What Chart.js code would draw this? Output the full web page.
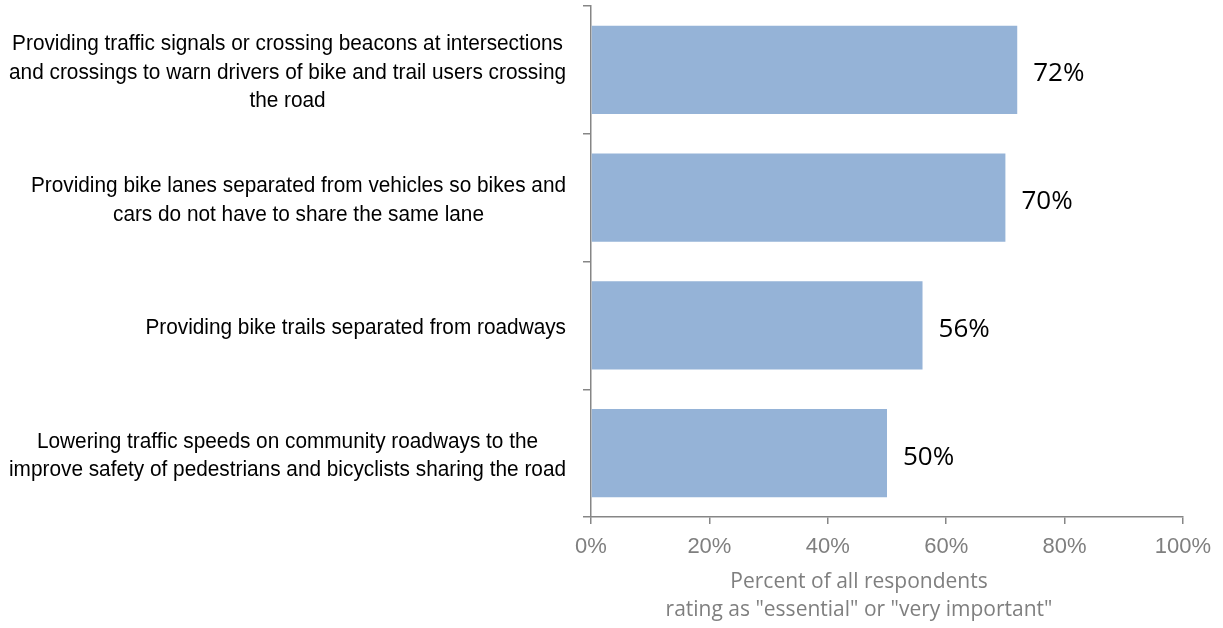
<!DOCTYPE html>
<html>
<head>
<meta charset="utf-8">
<title>Safety improvements rated essential or very important</title>
<script src="https://cdn.jsdelivr.net/npm/chart.js@4"></script>
<style>
  html, body { margin: 0; padding: 0; background: #fff; }
  #wrap { width: 1223px; height: 628px; position: relative; }
</style>
</head>
<body>
<div id="wrap"><canvas id="chart"></canvas></div>
<script>
// ─── Data ─────────────────────────────────────────────────────────────────────
const categories = [
  ['Providing traffic signals or crossing beacons at intersections',
   'and crossings to warn drivers of bike and trail users crossing',
   'the road'],
  ['Providing bike lanes separated from vehicles so bikes and',
   'cars do not have to share the same lane'],
  ['Providing bike trails separated from roadways'],
  ['Lowering traffic speeds on community roadways to the',
   'improve safety of pedestrians and bicyclists sharing the road'],
];
const ratings = [72, 70, 56, 50];
const xTickValues = [0, 20, 40, 60, 80, 100];
const axisTitle = ['Percent of all respondents', 'rating as "essential" or "very important"'];

const BAR_COLOR = '#95b3d7';
const AXIS_COLOR = '#868686';
const TICK_TEXT = '#7f7f7f';
const LABEL_FONT = "22px 'Liberation Sans', Arial, sans-serif";
const LABEL_SQUEEZE = 0.945;   // slightly condensed
const VALUE_FONT = "26px 'Open Sans', sans-serif";
const TITLE_FONT = "21px 'Open Sans', sans-serif";

// Category labels: block right-aligned to the axis, lines centred inside the block
const categoryLabels = {
  id: 'categoryLabels',
  afterDraw(chart) {
    const { ctx, scales: { y } } = chart;
    const right = 566, lineH = 28.5;
    ctx.save();
    ctx.font = LABEL_FONT;
    ctx.fillStyle = '#000';
    ctx.textAlign = 'center';
    ctx.textBaseline = 'middle';
    ctx.scale(LABEL_SQUEEZE, 1);
    categories.forEach((lines, i) => {
      const cy = y.getPixelForTick(i) + 3;
      const w = Math.max(...lines.map(l => ctx.measureText(l).width)) * LABEL_SQUEEZE;
      const cx = (right - w / 2) / LABEL_SQUEEZE;
      const top = cy - (lines.length - 1) * lineH / 2;
      lines.forEach((l, j) => ctx.fillText(l, cx, top + j * lineH));
    });
    ctx.restore();
  },
};

// Two-line axis title under the x tick labels
const xTitle = {
  id: 'xTitle',
  afterDraw(chart) {
    const { ctx } = chart;
    ctx.save();
    ctx.font = TITLE_FONT;
    ctx.fillStyle = TICK_TEXT;
    ctx.textAlign = 'center';
    ctx.textBaseline = 'middle';
    axisTitle.forEach((t, j) => ctx.fillText(t, 859, 582 + j * 28));
    ctx.restore();
  },
};

// Value labels just past the bar ends
const valueLabels = {
  id: 'valueLabels',
  afterDatasetsDraw(chart) {
    const { ctx } = chart;
    const meta = chart.getDatasetMeta(0);
    ctx.save();
    ctx.font = VALUE_FONT;
    ctx.fillStyle = '#000';
    ctx.textAlign = 'left';
    ctx.textBaseline = 'middle';
    meta.data.forEach((bar, i) => {
      ctx.fillText(ratings[i] + '%', bar.x + 16, bar.y + 4);
    });
    ctx.restore();
  },
};

const ctx = document.getElementById('chart').getContext('2d');
new Chart(ctx, {
  type: 'bar',
  data: {
    labels: categories.map(c => c.join(' ')),
    datasets: [{
      data: ratings,
      backgroundColor: BAR_COLOR,
      borderWidth: 0,
      barPercentage: 0.69,
      categoryPercentage: 1,
    }],
  },
  options: {
    indexAxis: 'y',
    responsive: true, maintainAspectRatio: false,
    animation: false,
    layout: { padding: { top: 6, right: 40, bottom: 0, left: 0 } },
    plugins: { legend: { display: false }, tooltip: { enabled: false } },
    scales: {
      x: {
        min: 0, max: 100,
        afterBuildTicks: s => { s.ticks = xTickValues.map(v => ({ value: v })); },
        grid: { drawOnChartArea: false, drawTicks: true, tickLength: 7, color: AXIS_COLOR, lineWidth: 1.5 },
        border: { color: AXIS_COLOR, width: 1.5 },
        ticks: {
          color: TICK_TEXT, padding: 10,
          font: { family: "'Liberation Sans', Arial, sans-serif", size: 22 },
          callback: v => v + '%',
        },
        afterFit: s => { s.height = 111; },
      },
      y: {
        grid: { drawOnChartArea: false, drawTicks: true, tickLength: 8, color: AXIS_COLOR, lineWidth: 1.5, offset: true },
        border: { color: AXIS_COLOR, width: 1.5 },
        ticks: { display: false },
        afterFit: s => { s.width = 591; },
      },
    },
  },
  plugins: [categoryLabels, valueLabels, xTitle],
});
</script>
</body>
</html>
